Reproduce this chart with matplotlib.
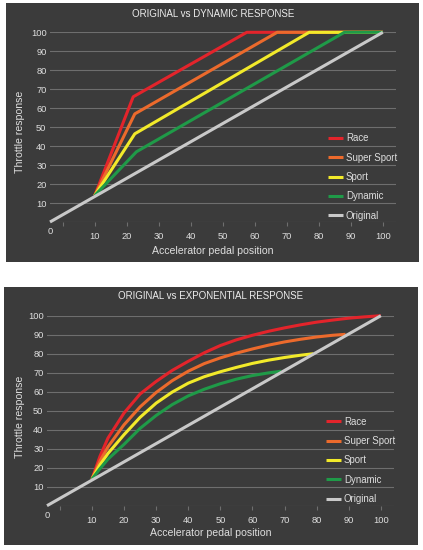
import matplotlib
matplotlib.use("Agg")
import matplotlib.pyplot as plt
from matplotlib.patches import Rectangle

plt.rcParams['font.family'] = ['Liberation Sans', 'DejaVu Sans']

# ---------------- data ----------------
series_labels = ["Race", "Super Sport", "Sport", "Dynamic", "Original"]
series_colors = ["#e3242b", "#ec6a2c", "#f2ea2a", "#1f9a48", "#c9c9c9"]

y_ticks = [0, 10, 20, 30, 40, 50, 60, 70, 80, 90, 100]
y_tick_labels = ["", "10", "20", "30", "40", "50", "60", "70", "80", "90", "100"]
x_ticks = [0, 10, 20, 30, 40, 50, 60, 70, 80, 90, 100]
x_tick_labels = ["", "10", "20", "30", "40", "50", "60", "70", "80", "90", "100"]
origin_label = "0"
origin_pos = -4

titles = ["ORIGINAL vs DYNAMIC RESPONSE", "ORIGINAL vs EXPONENTIAL RESPONSE"]
x_label = "Accelerator pedal position"
y_label = "Throttle response"

# original (reference) line
orig_x = [-4, 100]
orig_y = [0, 100]

# top chart: dynamic (piecewise linear) response
dyn_race_x = [10, 22, 57.5, 100]
dyn_race_y = [14, 66, 100, 100]
dyn_ss_x = [10, 22.5, 67, 100]
dyn_ss_y = [14, 57, 100, 100]
dyn_sport_x = [10, 22.5, 77, 100]
dyn_sport_y = [14, 46.5, 100, 100]
dyn_dyn_x = [10, 23, 88, 100]
dyn_dyn_y = [14, 37, 100, 100]

# bottom chart: exponential response
exp_race_x = [10, 12.5, 15, 20, 25, 30, 35, 40, 45, 50, 55, 60, 65, 70, 75, 80, 85, 90, 95, 100]
exp_race_y = [14, 26, 35.6, 48.8, 58.8, 65.4, 71.2, 76, 80.5, 84.3, 87.3, 89.7, 91.8, 93.6, 95.2, 96.6, 97.7, 98.7, 99.4, 100]
exp_ss_x = [10, 12.5, 15, 20, 25, 30, 35, 40, 45, 50, 55, 60, 65, 70, 75, 80, 85, 89]
exp_ss_y = [14, 23.5, 31, 42.6, 52, 59.6, 65.8, 70.8, 74.8, 77.8, 80.3, 82.5, 84.5, 86.2, 87.6, 88.8, 89.7, 90.2]
exp_sport_x = [10, 12.5, 15, 20, 25, 30, 35, 40, 45, 50, 55, 60, 65, 70, 75, 79]
exp_sport_y = [14, 21.5, 27.5, 37.4, 46.5, 54, 59.8, 64.5, 67.9, 70.5, 72.8, 74.9, 76.6, 78, 79.2, 80]
exp_dyn_x = [10, 12.5, 15, 20, 25, 30, 35, 40, 45, 50, 55, 60, 65, 69]
exp_dyn_y = [14, 19.5, 24.5, 32.3, 40.7, 47.5, 53.2, 57.8, 61.3, 64.2, 66.6, 68.5, 69.9, 70.8]

top_series = [(dyn_race_x, dyn_race_y), (dyn_ss_x, dyn_ss_y), (dyn_sport_x, dyn_sport_y),
              (dyn_dyn_x, dyn_dyn_y), (orig_x, orig_y)]
bot_series = [(exp_race_x, exp_race_y), (exp_ss_x, exp_ss_y), (exp_sport_x, exp_sport_y),
              (exp_dyn_x, exp_dyn_y), (orig_x, orig_y)]

# ---------------- style ----------------
W, H = 423, 550
BG = "#3b3b3b"
GRID = "#6e6e6e"
TXT = "#dedede"

fig = plt.figure(figsize=(W / 100, H / 100), dpi=100, facecolor="white")


def fx(px):
    return px / W


def fy(py):
    return 1 - py / H


def panel(left, top, right, bottom):
    fig.patches.append(Rectangle((fx(left), fy(bottom)), fx(right - left), (bottom - top) / H,
                                 transform=fig.transFigure, facecolor=BG, edgecolor="none", zorder=-5))


def make_axes(left_px, right_px, y0_px, y100_px, series, title, title_xy, xl_xy, yl_xy, leg_top):
    ax = fig.add_axes([fx(left_px), fy(y0_px), fx(right_px - left_px), (y0_px - y100_px) / H])
    ax.set_zorder(2)
    ax.set_facecolor("none")
    ax.set_xlim(-4, 104)
    ax.set_ylim(0, 100)
    for s in ax.spines.values():
        s.set_visible(False)
    ax.set_yticks(y_ticks)
    ax.set_yticklabels(y_tick_labels)
    ax.set_xticks(x_ticks)
    ax.set_xticklabels(x_tick_labels)
    ax.yaxis.grid(True, color=GRID, linewidth=0.8)
    ax.set_axisbelow(True)
    ax.tick_params(axis="y", length=0, pad=2.5, labelsize=6.7, labelcolor=TXT)
    ax.tick_params(axis="x", length=2.8, width=0.8, color=GRID, pad=4.3, labelsize=6.7, labelcolor=TXT)
    ax.annotate(origin_label, (origin_pos, 0), xytext=(0, -3.5), textcoords="offset points",
                ha="center", va="top", fontsize=6.7, color=TXT, annotation_clip=False)
    for (xs, ys), lab, col in zip(series, series_labels, series_colors):
        ax.plot(xs, ys, color=col, linewidth=2.2, label=lab, clip_on=False,
                solid_capstyle="butt", solid_joinstyle="round")
    leg = ax.legend(loc="upper left", bbox_to_anchor=(0.805, leg_top), frameon=False,
                    fontsize=6.9, handlelength=1.55, handletextpad=0.3, labelspacing=0.97,
                    borderpad=0, borderaxespad=0)
    for t in leg.get_texts():
        t.set_color(TXT)
    fig.text(fx(title_xy[0]), fy(title_xy[1]), title, ha="center", va="center", fontsize=7, color="#ececec")
    fig.text(fx(xl_xy[0]), fy(xl_xy[1]), x_label, ha="center", va="center", fontsize=7.6, color=TXT)
    fig.text(fx(yl_xy[0]), fy(yl_xy[1]), y_label, ha="center", va="center", rotation=90,
             fontsize=7.6, color=TXT)
    return ax


panel(6, 3, 419, 262)
panel(4, 287, 418, 545)

make_axes(50, 395.6, 222, 32.3, top_series, titles[0], (213, 14), (213, 251), (20, 132), 0.467)
make_axes(47, 393.7, 505.7, 315.7, bot_series, titles[1], (211, 296), (211, 533), (20, 417), 0.468)

fig.savefig("out.png", dpi=100, facecolor="white")
